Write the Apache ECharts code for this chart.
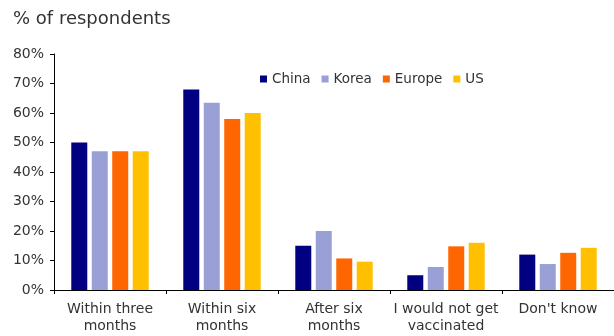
<!DOCTYPE html>
<html><head><meta charset="utf-8">
<script src="https://cdn.jsdelivr.net/npm/echarts@6/dist/echarts.min.js"></script>
<style>html,body{margin:0;padding:0;background:#fff}#c{width:614px;height:336px}</style>
</head><body><div id="c"></div>
<script>
var categories = ['Within three\nmonths', 'Within six\nmonths', 'After six\nmonths', 'I would not get\nvaccinated', "Don't know"];
var china  = [50, 68, 15, 5, 12];
var korea  = [47, 63.5, 20, 7.8, 8.8];
var europe = [47, 58, 10.7, 14.8, 12.6];
var us     = [47, 60, 9.6, 16, 14.3];
var seriesNames = ['China', 'Korea', 'Europe', 'US'];
var colors = ['#000080', '#99a0d6', '#ff6600', '#ffc000'];
var FONT = 'DejaVu Sans';
var chart = echarts.init(document.getElementById('c'));
var data = [china, korea, europe, us];
chart.setOption({
  animation: false,
  textStyle: {fontFamily: FONT},
  title: {text: '% of respondents', left: 8, top: 5, textStyle: {fontFamily: FONT, fontSize: 18, fontWeight: 'normal', color: '#333'}},
  legend: {top: 67, left: 255, itemWidth: 7, itemHeight: 7, itemGap: 11, icon: 'rect',
    textStyle: {fontFamily: FONT, fontSize: 13.5, color: '#333'},
    data: seriesNames},
  grid: {left: 54, right: -2, top: 54, bottom: 46, containLabel: false},
  xAxis: {type: 'category', data: categories,
    axisLine: {lineStyle: {color: '#000', width: 1}},
    axisTick: {show: true, length: 4, lineStyle: {color: '#000'}},
    axisLabel: {interval: 0, fontFamily: FONT, fontSize: 14, color: '#333', lineHeight: 17, margin: 11}},
  yAxis: {type: 'value', min: 0, max: 80, interval: 10,
    axisLine: {show: true, lineStyle: {color: '#000', width: 1}},
    axisTick: {show: true, length: 4, lineStyle: {color: '#000'}},
    splitLine: {show: false},
    axisLabel: {formatter: '{value}%', fontFamily: FONT, fontSize: 14, color: '#333', margin: 10}},
  series: data.map(function(d, i){
    return {name: seriesNames[i], type: 'bar', data: d, barWidth: 16, barGap: '28%',
      itemStyle: {color: colors[i]}};
  })
});
</script></body></html>
